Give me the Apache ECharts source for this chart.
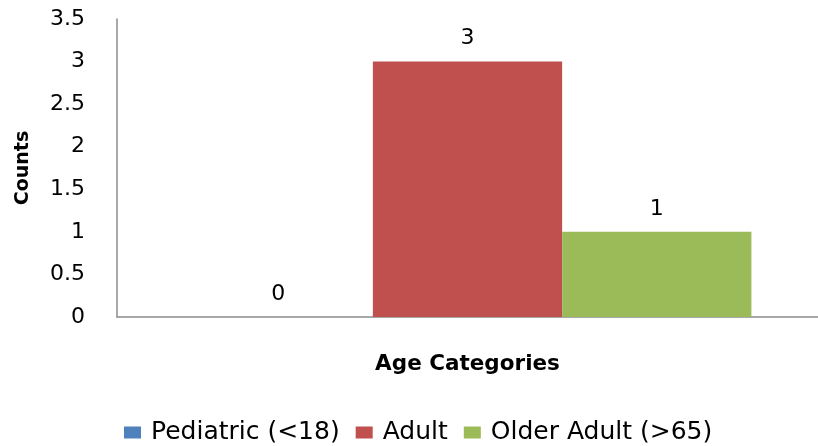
<!DOCTYPE html>
<html><head><meta charset="utf-8">
<script src="https://cdn.jsdelivr.net/npm/echarts@6/dist/echarts.min.js"></script>
<style>html,body{margin:0;padding:0;background:#fff}#c{width:818px;height:446px}</style>
</head><body><div id="c"></div>
<script>
var categories = ['Age Categories'];
var seriesNames = ['Pediatric (<18)', 'Adult', 'Older Adult (>65)'];
var pediatric = [0];
var adult = [3];
var olderAdult = [1];
var colors = ['#4F81BD', '#C0504D', '#9BBB59'];
var FONT = '"DejaVu Sans", Verdana, sans-serif';
var chart = echarts.init(document.getElementById('c'));
var vals = [pediatric, adult, olderAdult];
chart.setOption({
  animation: false,
  textStyle: {fontFamily: FONT},
  grid: {left: 117, right: 0, top: 19, bottom: 129},
  legend: {
    data: seriesNames, left: 119, top: 415, itemWidth: 17, itemHeight: 12, itemGap: 16,
    icon: 'rect',
    textStyle: {fontSize: 25, color: '#000', fontFamily: FONT, padding: [0, 0, 0, 5]}
  },
  xAxis: {
    type: 'category', data: categories,
    axisLine: {lineStyle: {color: '#8C8C8C', width: 1.5}},
    axisTick: {show: false}, axisLabel: {show: false},
    name: 'Age Categories', nameLocation: 'middle', nameGap: 36,
    nameTextStyle: {fontSize: 21.5, fontWeight: 'bold', color: '#000', fontFamily: FONT}
  },
  yAxis: {
    type: 'value', min: 0, max: 3.5, interval: 0.5,
    axisLine: {show: true, lineStyle: {color: '#8C8C8C', width: 1.5}},
    axisTick: {show: false}, splitLine: {show: false},
    axisLabel: {fontSize: 22, color: '#000', margin: 32, fontFamily: FONT},
    name: 'Counts', nameLocation: 'middle', nameGap: 84,
    nameTextStyle: {fontSize: 19, fontWeight: 'bold', color: '#000', fontFamily: FONT}
  },
  series: seriesNames.map(function (n, i) {
    return {
      name: n, type: 'bar', data: vals[i], barGap: '0%', barCategoryGap: '19%',
      itemStyle: {color: colors[i]},
      label: {show: true, position: 'top', distance: 12, fontSize: 22, color: '#000', fontFamily: FONT}
    };
  })
});
</script></body></html>
